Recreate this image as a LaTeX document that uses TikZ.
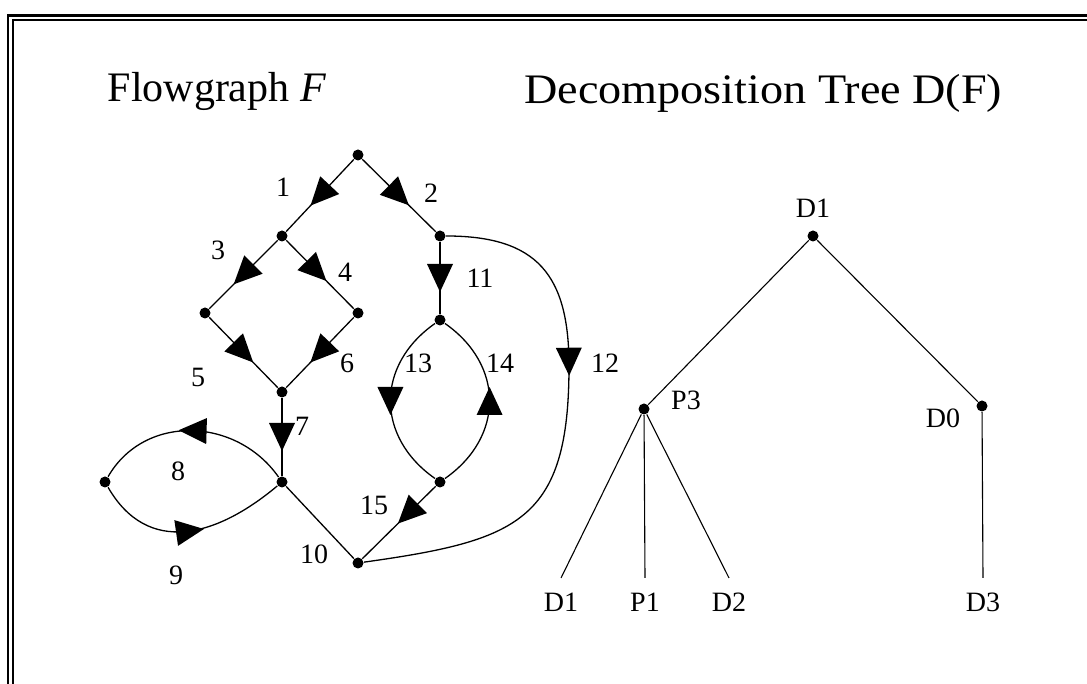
\documentclass[tikz,border=0pt]{standalone}
\usepackage{fontspec}
\setmainfont{Liberation Serif}
\usetikzlibrary{decorations.markings}

\begin{document}
\begin{tikzpicture}[x=1pt, y=1pt, line width=1.3pt,
  dot/.style={circle, fill, inner sep=0pt, minimum size=11pt},
  num/.style={font=\fontsize{28}{30}\selectfont},
  title/.style={font=\fontsize{42}{46}\selectfont},
  leaf/.style={num, anchor=north, inner xsep=2pt, inner ysep=14pt},
  flow/.style={postaction={decorate}, decoration={markings,
    mark=at position #1 with {\fill (-14pt,-13pt) -- (14pt,0pt) -- (-14pt,13pt) -- cycle;}}},
  flow/.default=0.5]
\useasboundingbox (0,0) rectangle (1087,684);

% frame
\draw[line width=2.5pt] (8,0) -- (8,668.5) -- (1087,668.5);
\draw[line width=1.6pt] (13,0) -- (13,664) -- (1087,664);

\node[title, anchor=base west, inner sep=0pt] (tflow) at (107,582) {Flowgraph \textit{F}};
\node[title, anchor=base east, inner sep=0pt] (ttree) at (1003,580) {\scalebox{1.1}[1]{Decomposition Tree D(F)}};

% Flowgraph
\node[dot] (s) at (358,529) {};
\node[dot] (a) at (282,448) {};
\node[dot] (b) at (440,448) {};
\node[dot] (c) at (205,371) {};
\node[dot] (d) at (358,371) {};
\node[dot] (e) at (282,292) {};
\node[dot] (f) at (282,202) {};
\node[dot] (g) at (105,202) {};
\node[dot] (h) at (358,121) {};
\node[dot] (k) at (440,364) {};
\node[dot] (q) at (440,202) {};
\coordinate (r) at (569,318);

\draw[flow] (s) -- (a);
\draw[flow] (s) -- (b);
\draw[flow] (a) -- (c);
\draw[flow=0.45] (a) -- (d);
\draw[flow] (c) -- (e);
\draw[flow] (d) -- (e);
\draw[flow] (e) -- (f);
\draw[flow] (f) to[out=125, in=60, looseness=1.1] (g);
\draw[flow] (g) to[out=-60, in=-140, looseness=1.2] (f);
\draw (f) -- (h);
\draw[flow] (b) -- (k);
\draw[flow=0.38] (b) to[out=0, in=90, looseness=1.3] (r) to[out=-90, in=8, looseness=1.4] (h);
\draw[flow] (k) to[out=215, in=145, looseness=1.2] (q);
\draw[flow] (q) to[out=35, in=-35, looseness=1.2] (k);
\draw[flow=0.38] (q) -- (h);

\node[num] (n1) at (283,497) {1};
\node[num] (n2) at (431,491) {2};
\node[num] (n3) at (218,434) {3};
\node[num] (n4) at (345,412) {4};
\node[num] (n5) at (198,307) {5};
\node[num] (n6) at (347,321) {6};
\node[num] (n7) at (302,258) {7};
\node[num] (n8) at (178,213) {8};
\node[num] (n9) at (176,109) {9};
\node[num] (n10) at (314,130) {10};
\node[num] (n11) at (480,406) {11};
\node[num] (n12) at (605,321) {12};
\node[num] (n13) at (418,321) {13};
\node[num] (n14) at (500,321) {14};
\node[num] (n15) at (374,179) {15};

% Decomposition tree
\begin{scope}[line width=1.1pt]
\node[dot] (t0) at (813,448) {};
\node[dot] (t1) at (644,275) {};
\node[dot] (t2) at (982,278) {};
\node[num] (lt0) at (813,476) {D1};
\node[num] (lt1) at (686,284) {P3};
\node[num] (lt2) at (943,266) {D0};
\node[leaf] (l1) at (561,106) {D1};
\node[leaf] (l2) at (645,106) {P1};
\node[leaf] (l3) at (729,106) {D2};
\node[leaf] (l4) at (983,106) {D3};
\draw (t0) -- (t1);
\draw (t0) -- (t2);
\draw (t1) -- (l1.north);
\draw (t1) -- (l2.north);
\draw (t1) -- (l3.north);
\draw (t2) -- (l4.north);
\end{scope}
\end{tikzpicture}
\end{document}
